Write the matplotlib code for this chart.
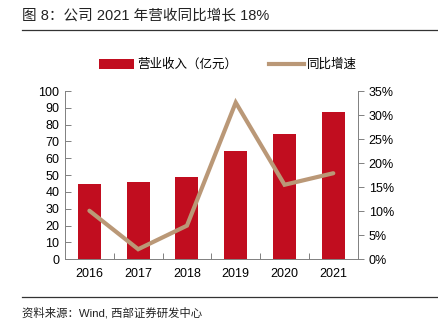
import matplotlib
matplotlib.use("Agg")
import matplotlib.pyplot as plt
from matplotlib.lines import Line2D
from matplotlib.patches import Patch
import numpy as np

plt.rcParams['font.family'] = ['Liberation Sans', 'Noto Sans CJK SC', 'DejaVu Sans']

years = ['2016', '2017', '2018', '2019', '2020', '2021']
revenue = [44.8, 45.8, 48.8, 64.5, 74.6, 87.7]        # 营业收入（亿元）
growth = [10.1, 2.1, 7.0, 32.6, 15.5, 17.9]           # 同比增速 (%)
left_ticks = list(range(0, 101, 10))
right_ticks = list(range(0, 36, 5))

RED = '#C10D1F'
TAN = '#BA9877'
GRAY = '#808080'

fig = plt.figure(figsize=(4.38, 3.29), dpi=100)
W, H = 438, 329

# Title and rules
fig.text(22 / W, 1 - 15 / H, '图 8：公司 2021 年营收同比增长 18%', fontsize=10.5,
         va='center', ha='left', color='#222222')
fig.add_artist(Line2D([22 / W, 1.0], [1 - 29.5 / H] * 2, color='#333333', lw=0.9))
fig.add_artist(Line2D([22 / W, 1.0], [1 - 297 / H] * 2, color='#333333', lw=0.9))
fig.text(22 / W, 1 - 313 / H, '资料来源：Wind, 西部证券研发中心', fontsize=8.2,
         va='center', ha='left', color='#222222')

ax = fig.add_axes([65 / W, 1 - 259.3 / H, (357.7 - 65) / W, (259.3 - 91) / H])
x = np.arange(len(years))
ax.bar(x, revenue, width=0.47, color=RED, zorder=2)
ax.set_xlim(-0.5, len(years) - 0.5)
ax.set_ylim(0, 100)
ax.set_yticks(left_ticks)
ax.set_xticks(x)
ax.set_xticklabels(years, fontsize=9)
ax.tick_params(axis='x', length=0, pad=6)
ax.set_xticks(np.arange(0.5, len(years) - 0.5, 1), minor=True)
ax.tick_params(axis='x', which='minor', direction='in', length=4, color=GRAY, width=0.7)
ax.tick_params(axis='y', direction='in', length=4, color=GRAY, width=0.7, labelsize=9, pad=4)
for s in ['top', 'right']:
    ax.spines[s].set_visible(False)
ax.spines['left'].set_color(GRAY)
ax.spines['bottom'].set_color(GRAY)
ax.spines['left'].set_linewidth(0.7)
ax.spines['bottom'].set_linewidth(0.7)

ax2 = ax.twinx()
ax2.plot(x, growth, color=TAN, lw=3, solid_capstyle='round', solid_joinstyle='miter', zorder=3)
ax2.set_ylim(0, 35)
ax2.set_yticks(right_ticks)
ax2.set_yticklabels([f'{t}%' for t in right_ticks])
ax2.tick_params(axis='y', direction='out', length=4, color=GRAY, width=0.7, labelsize=9, pad=4)
for s in ['top', 'left', 'bottom']:
    ax2.spines[s].set_visible(False)
ax2.spines['right'].set_color(GRAY)
ax2.spines['right'].set_linewidth(0.7)

handles = [Patch(facecolor=RED, edgecolor='none'), Line2D([0], [0], color=TAN, lw=3)]
fig.legend(handles, ['营业收入（亿元）', '同比增速'], loc='center',
           bbox_to_anchor=(228 / W, 1 - 65 / H), ncol=2, frameon=False, fontsize=9,
           handlelength=2.8, handleheight=0.9, columnspacing=2.5, handletextpad=0.3)

fig.savefig('out.png', dpi=100)
